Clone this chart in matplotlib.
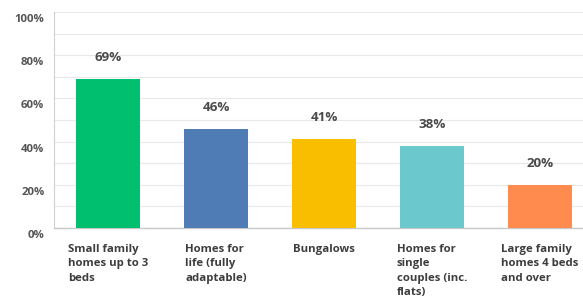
import matplotlib
matplotlib.use("Agg")
import matplotlib.pyplot as plt
from matplotlib.transforms import ScaledTranslation
import numpy as np

categories = ["Small family\nhomes up to 3\nbeds",
              "Homes for\nlife (fully\nadaptable)",
              "Bungalows",
              "Homes for\nsingle\ncouples (inc.\nflats)",
              "Large family\nhomes 4 beds\nand over"]
values = [69, 46, 41, 38, 20]
colors = ["#00BF6F", "#507CB6", "#F9BE00", "#6BC8CD", "#FF8B4F"]
yticks = [0, 20, 40, 60, 80, 100]
ytick_labels = ["0%", "20%", "40%", "60%", "80%", "100%"]

plt.rcParams['font.family'] = ['Open Sans', 'DejaVu Sans']
fig = plt.figure(figsize=(5.83, 3.0), dpi=100)
ax = fig.add_axes([54/583, 72/300, 540/583, 216/300])

x = np.arange(len(values))
ax.bar(x, values, width=0.6, color=colors, zorder=3)
ax.set_xlim(-0.5, len(values) - 0.5)
ax.set_ylim(0, 100)

ax.set_yticks(yticks)
ax.set_yticks(np.arange(10, 100, 20), minor=True)
ax.set_yticklabels(ytick_labels, fontsize=8.2, fontweight='bold', color='#555555')
ax.tick_params(axis='y', which='both', length=0, pad=7)
off = ScaledTranslation(0, -6/100, fig.dpi_scale_trans)
for lab in ax.get_yticklabels():
    lab.set_transform(lab.get_transform() + off)
ax.grid(axis='y', which='both', color='#e8e8e8', linewidth=0.8, zorder=0)
ax.set_xticks([])

for s in ['top', 'right']:
    ax.spines[s].set_visible(False)
ax.spines['left'].set_color('#d0d0d0')
ax.spines['bottom'].set_color('#c8c8c8')
ax.spines['left'].set_linewidth(0.8)
ax.spines['bottom'].set_linewidth(1.0)

vt = ax.transData + ScaledTranslation(0, 15/100, fig.dpi_scale_trans)
for xi, v in zip(x, values):
    ax.text(xi, v, f"{v}%", ha='center', va='bottom', fontsize=9.6,
            fontweight='bold', color='#4a4a4a', transform=vt)

lt = ax.transData + ScaledTranslation(0, -16/100, fig.dpi_scale_trans)
for xi, c in zip(x, categories):
    ax.text(xi, 0, c, ha='center', va='top', multialignment='left',
            fontsize=8.2, fontweight='bold', color='#3d3d3d',
            linespacing=1.42, transform=lt, clip_on=False)

fig.savefig("out.png", dpi=100)
